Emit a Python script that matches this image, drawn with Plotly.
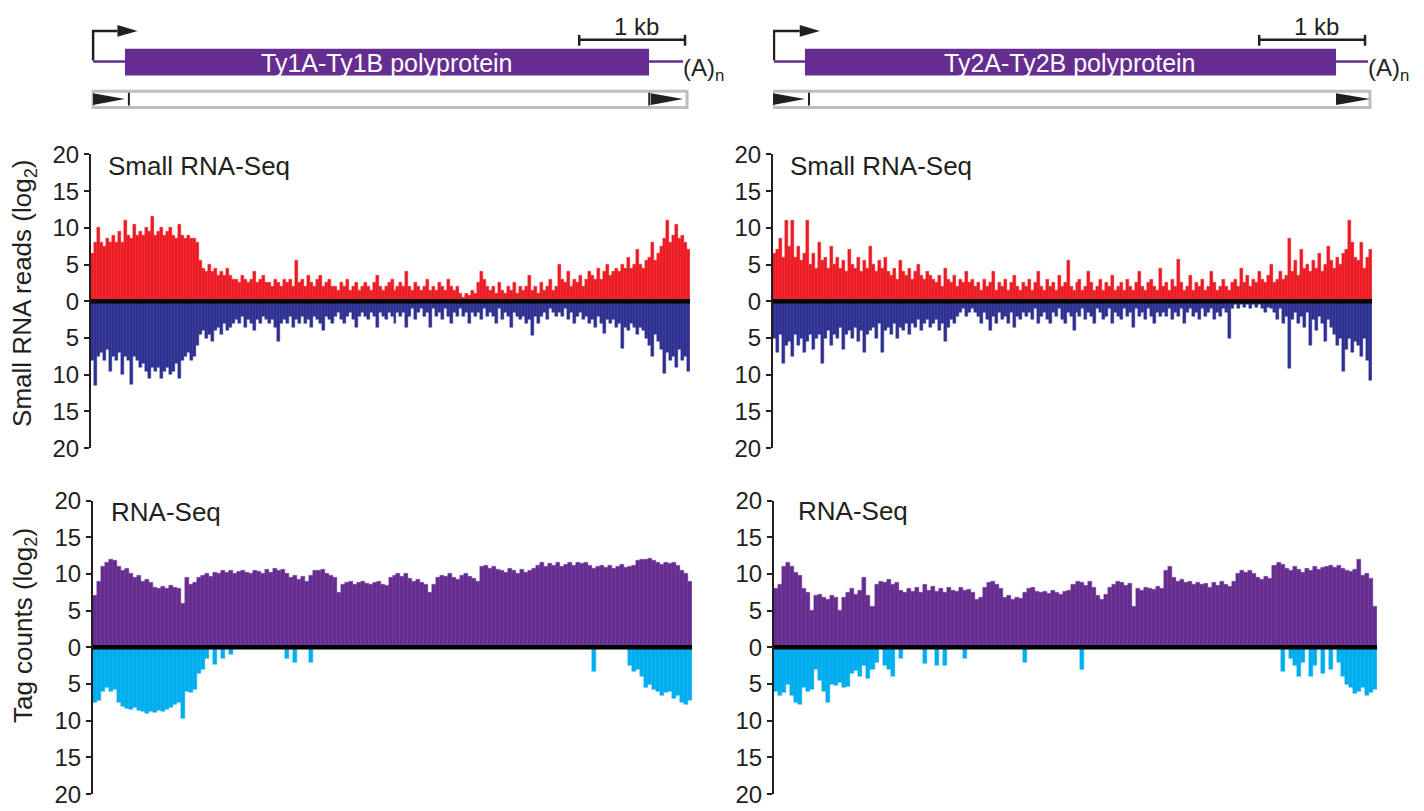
import numpy as np
import plotly.graph_objects as go

# ---------------- data (log2 read counts per bin) ----------------
ELEMENT_LEN_BP = 5660  # length drawn in each panel (1 kb scale bar = 106 px of 600 px)

TY1_SRNA_SENSE = [
    6.5, 8, 10, 8, 7.5, 8.5, 8, 9, 8, 9.5,
    8, 11, 9, 8.5, 10.5, 9, 9.5, 9, 10, 9.5,
    11.5, 9, 9.5, 10, 9, 9.5, 10, 9, 8.5, 10.5,
    9, 8.5, 9, 8.5, 8.5, 8, 5.5, 4.5, 4, 5,
    4, 4.5, 3.5, 4, 3.5, 4.5, 3.5, 3, 3, 2.5,
    3.5, 3, 2.5, 3, 4, 2.5, 3, 3.5, 2.5, 2.5,
    2, 3, 2.5, 2, 3, 2.5, 3, 2, 5.5, 2.5,
    3, 2, 3.5, 2.5, 2, 3, 3.5, 2, 2.5, 3,
    2, 2, 1.5, 2.5, 2, 3, 1.5, 2, 2.5, 1.5,
    2, 2.5, 2, 1.5, 2.5, 3.5, 2, 1.5, 2, 2.5,
    3, 1.5, 2, 2.5, 2, 4, 2, 1.5, 2.5, 2,
    1.5, 2, 3, 1.5, 2, 1.5, 2.5, 2, 1.5, 3,
    2, 1.5, 2, 1, 0.5, 1, 0.8, 1.5, 1, 2.5,
    4, 3, 2, 1.5, 2, 1, 2.5, 1.5, 1, 2,
    1.5, 2.5, 1, 2, 1.5, 2, 3.5, 1.5, 2, 1,
    2.5, 1.5, 2, 3, 1.5, 2, 5, 3, 2.5, 4,
    2, 3, 2.5, 3.5, 2, 3, 4, 3.5, 3, 4.5,
    3, 4, 5, 3.5, 4, 4.5, 4, 5, 4.5, 6,
    4.5, 5, 7, 5, 4.5, 5.5, 6, 8, 5.5, 6.5,
    7.5, 8.5, 11, 8, 9, 10.5, 8.5, 9, 8, 7,
]
TY1_SRNA_ANTISENSE = [
    8, 11.5, 7.5, 7, 8, 6.5, 9.5, 7.5, 8, 7,
    10, 7.5, 8, 11.3, 7.5, 8, 9, 8.5, 9.5, 10.5,
    9, 9.5, 9, 10.5, 9.5, 9, 10, 9.5, 8.5, 10.5,
    8, 7.5, 7, 8, 7.5, 6, 4.5, 4, 5, 4.5,
    5.5, 4, 3.5, 4.5, 3, 4, 3.5, 3, 2.5, 3,
    2, 3.5, 2.5, 3, 4, 2.5, 3, 2, 2.5, 3,
    2.5, 3.5, 5.5, 3, 2.5, 3, 2, 3.5, 2.5, 3,
    2, 3, 2.5, 3.5, 2, 2.5, 3, 4, 2, 2.5,
    3, 2, 1.5, 2.5, 3, 2, 1.5, 2.5, 3.5, 2,
    1.5, 2, 2.5, 1.5, 2, 3.5, 1.5, 2, 2.5, 1.5,
    2, 3, 1.5, 2, 1.5, 3.5, 2, 1, 2.5, 1.5,
    1, 2, 1.5, 3.5, 1, 2, 1.5, 2.5, 1, 2,
    3, 1.5, 2, 1, 2, 1.5, 3, 1.5, 2, 1.5,
    2.5, 1, 2, 1.5, 2, 3, 1, 2.5, 1.5, 2,
    3.5, 1.5, 2, 2.5, 2, 3, 2.5, 4.6, 2, 3,
    2, 1.5, 2.5, 1, 1.5, 2, 1.5, 2, 1, 2.5,
    1.5, 3, 2, 1.5, 2.5, 2, 3, 2.5, 3.5, 2,
    3, 4.4, 2.5, 3, 2.5, 3.5, 3, 6.4, 3.5, 4,
    3, 3.5, 4.5, 3.5, 4, 5, 6, 7.5, 4.5, 5.5,
    6.5, 9.9, 7, 8, 7.5, 9, 6.5, 8, 7.5, 9.5,
]
TY2_SRNA_SENSE = [
    6.5, 7, 8.5, 6, 11, 7.5, 11, 6, 7.5, 5.5,
    6.5, 11, 5, 6.5, 4.5, 8, 5.5, 6, 4.5, 7.5,
    5, 6, 4.5, 5.5, 4, 7, 5, 4.5, 6, 4,
    5.5, 4.5, 7.5, 5, 4, 5.5, 4.5, 6, 4, 3.5,
    4.5, 3, 5.5, 4, 3.5, 4.5, 3, 4, 5, 3.5,
    3, 4, 3.5, 3, 2.5, 3.5, 2, 4.5, 3, 2.5,
    3.5, 2, 3, 2.5, 4, 2.5, 3, 2, 2.5, 1.5,
    3, 2, 2.5, 4, 1.5, 2.5, 2, 3, 1.5, 2.5,
    3.5, 2, 1.5, 2.5, 2, 3, 1.5, 2.5, 4, 2,
    1.5, 3, 2, 2.5, 1.5, 3.5, 2, 2.5, 5.5, 2,
    1.5, 2.5, 3, 1.5, 2, 4, 2.5, 1.5, 2, 3,
    1.5, 2.5, 2, 3.5, 1.5, 2, 2.5, 1.5, 3, 2,
    1.5, 2.5, 4, 2, 1.5, 2.5, 3, 2, 1.5, 4.5,
    2, 2.5, 1.5, 3, 2, 5.7, 2.5, 1.5, 2, 3.5,
    1.5, 2.5, 2, 3, 1.5, 2, 4, 2.5, 1.5, 2,
    3, 2, 1.5, 2.5, 3, 2, 4.5, 2.5, 3.5, 2,
    3, 2.5, 4, 3, 2.5, 3.5, 5, 2.5, 3, 4,
    3, 3.5, 8.5, 4, 5.5, 3.5, 7, 4.5, 5, 4,
    5.5, 4.5, 6.5, 4, 5, 7.5, 5.5, 4.5, 6, 5,
    6.5, 7, 11, 8, 6, 5.5, 8, 4.5, 6, 7,
]
TY2_SRNA_ANTISENSE = [
    5, 7, 4.5, 8.5, 6, 5.5, 7.5, 4.5, 6, 5,
    7, 5.5, 4.5, 6.5, 5, 4.5, 8.5, 5, 4, 6,
    4.5, 5, 3.5, 6.5, 4.5, 4, 5, 3.5, 5.5, 4,
    7, 4.5, 4, 3.5, 5, 3, 7, 4, 3.5, 4.5,
    3, 5, 3.5, 4, 3, 4.5, 3, 3.5, 2.5, 4,
    3, 2.5, 3.5, 3, 2.5, 4, 3, 5.5, 3.5, 2.5,
    3, 2, 1.5, 1, 2, 1.5, 1, 1.5, 2, 3,
    1.5, 2.5, 4, 2, 3, 1.5, 2.5, 2, 3, 1.5,
    3.5, 2, 2.5, 1.5, 2, 1.5, 2.5, 1, 3, 2,
    1.5, 2.5, 3, 1.5, 2, 1, 2.5, 3, 1.5, 2,
    4, 1.5, 2, 1, 2.5, 1.5, 2, 3, 1, 1.5,
    2.5, 2, 1, 3, 1.5, 2, 2.5, 1, 2, 1.5,
    3.5, 1, 2, 1.5, 2.5, 1, 2, 3, 1.5, 2,
    1.5, 2, 1, 2.5, 1.5, 2, 1, 3, 1.5, 1,
    2, 1.5, 2.5, 1, 2, 1.5, 1, 2.5, 1.5, 2,
    1, 1.5, 5, 1, 0.5, 1, 0.5, 0.8, 0.5, 1,
    0.5, 0.8, 0.5, 1, 1.5, 0.8, 1, 1.5, 2.5, 1,
    3, 2, 9.2, 2.5, 1.5, 3, 2, 3.5, 1.5, 6,
    2.5, 4, 2, 3, 5.5, 2.5, 3.5, 4.5, 6, 5,
    9.5, 6.5, 5, 7, 5.5, 6, 7.5, 5, 8, 10.8,
]
TY1_RNASEQ_SENSE = [
    7, 9, 11, 11.5, 12, 11.8, 11, 10.5, 10.8, 10,
    9.5, 9.8, 9, 9.2, 8.8, 8.2, 8, 8.3, 8, 8.4,
    8.2, 8, 6, 9.5, 8.5, 8.8, 9.5, 9.8, 10, 9.6,
    10.2, 10, 10.4, 10.2, 10.5, 10, 10.3, 10.4, 10.2, 10,
    10.5, 10.3, 10, 10.6, 10.2, 10.8, 10.4, 10.6, 10, 9.5,
    9.8, 9.2, 9.6, 9, 9.8, 10.5, 10.4, 10.6, 10, 9.8,
    9.5, 7.5, 8.5, 8.8, 9, 8.6, 8.8, 9, 8.7, 8.5,
    8.8, 9, 8.6, 8.4, 9.5, 9.8, 10, 9.6, 10, 9.4,
    9, 9.2, 8.8, 8.5, 7.5, 8.6, 9.5, 9.8, 9.6, 10,
    9.5, 9.2, 9.8, 10, 9.6, 9.4, 9, 11, 11.2, 10.8,
    11, 10.6, 10.4, 10.2, 10.8, 10.5, 10, 10.6, 10.2, 10.4,
    10.8, 11.2, 11.5, 11, 11.4, 11.2, 11.5, 11, 11.3, 11.5,
    11.2, 11.6, 11.4, 11.5, 11.2, 10.8, 11, 11.2, 10.9, 11.1,
    10.8, 11, 11.3, 10.9, 11, 11.2, 11.8, 12, 11.9, 12.1,
    11.8, 11.5, 11.3, 11.6, 11.4, 11.5, 11.2, 10.5, 10, 9,
]
TY1_RNASEQ_ANTISENSE = [
    7.5, 7.3, 6, 5.5, 6, 5.8, 7.5, 8, 8.3, 8.5,
    8.2, 8.6, 8.8, 9, 8.7, 8.9, 8.6, 8.8, 8.5, 8.2,
    7.8, 7.5, 9.7, 6, 6.2, 5.8, 3.5, 3, 1.5, 0,
    2.3, 0, 1.5, 0, 1, 0, 0, 0, 0, 0,
    0, 0, 0, 0, 0, 0, 0, 0, 1.5, 0,
    2, 0, 0, 0, 2, 0, 0, 0, 0, 0,
    0, 0, 0, 0, 0, 0, 0, 0, 0, 0,
    0, 0, 0, 0, 0, 0, 0, 0, 0, 0,
    0, 0, 0, 0, 0, 0, 0, 0, 0, 0,
    0, 0, 0, 0, 0, 0, 0, 0, 0, 0,
    0, 0, 0, 0, 0, 0, 0, 0, 0, 0,
    0, 0, 0, 0, 0, 0, 0, 0, 0, 0,
    0, 0, 0, 0, 0, 3.3, 0, 0, 0, 0,
    0, 0, 0, 0, 2.5, 3.3, 3, 4, 5.5, 5,
    5.8, 6, 6.5, 6.2, 6, 7, 6.5, 7.5, 7.8, 7.2,
]
TY2_RNASEQ_SENSE = [
    8, 8.5, 11, 11.5, 11, 10.2, 9.8, 8, 7.5, 5,
    7, 7.2, 6.8, 6.5, 7, 6.8, 5, 6.8, 7.5, 8,
    7.2, 7.8, 9.5, 7, 5.5, 8.5, 9, 8.8, 9.2, 8.6,
    8.8, 7.8, 7.5, 8, 7.6, 8.2, 7.5, 8.5, 7.8, 8.3,
    7.6, 8, 7.5, 8.2, 7.8, 7.6, 8.1, 7.7, 7.9, 7.5,
    6.5, 6.8, 8.2, 8.8, 9, 8.5, 8, 6.8, 7, 6.5,
    6.8, 6.6, 7.5, 8, 8.2, 7.6, 7.4, 7.6, 7.3, 7.8,
    7.5, 7.2, 7.6, 7.8, 8.5, 9, 8.8, 8.4, 8.9, 8.2,
    7, 6.5, 7.2, 8.2, 8.6, 9, 8.8, 8.4, 8.7, 5.5,
    8, 7.8, 8.2, 8, 7.9, 8.3, 8, 10.5, 11, 9.5,
    9, 9.2, 8.8, 9, 8.6, 8.8, 8.5, 8.7, 8.2, 8.8,
    8.4, 9, 8.6, 8.3, 8.9, 10, 10.5, 10.2, 10.4, 10,
    9.5, 9.2, 9.6, 9.4, 11.2, 11.5, 11.3, 10.8, 10.5, 11,
    10.6, 10.2, 10.8, 10.4, 11, 10.6, 10.9, 11, 11.2, 10.9,
    11.1, 10.8, 10.5, 10.3, 10.6, 12, 9.8, 10, 9.4, 5.5,
]
TY2_RNASEQ_ANTISENSE = [
    6, 6.5, 6.2, 5, 6.5, 7.5, 7.8, 5.5, 6, 5.8,
    3, 4.5, 6, 7.5, 5, 5.2, 4.8, 5.5, 5.3, 3.5,
    3.2, 4, 2.5, 4.2, 3, 2, 0, 2.5, 3, 4,
    0, 1.5, 0, 0, 0, 0, 0, 2.2, 0, 0,
    2.5, 0, 2.5, 0, 0, 0, 0, 1.5, 0, 0,
    0, 0, 0, 0, 0, 0, 0, 0, 0, 0,
    0, 0, 2, 0, 0, 0, 0, 0, 0, 0,
    0, 0, 0, 0, 0, 0, 3, 0, 0, 0,
    0, 0, 0, 0, 0, 0, 0, 0, 0, 0,
    0, 0, 0, 0, 0, 0, 0, 0, 0, 0,
    0, 0, 0, 0, 0, 0, 0, 0, 0, 0,
    0, 0, 0, 0, 0, 0, 0, 0, 0, 0,
    0, 0, 0, 0, 0, 0, 3.3, 0, 1.5, 2.5,
    4, 2, 0, 4, 2.5, 0, 3.5, 0, 3, 0,
    2, 4, 5, 5.5, 6.3, 6, 5.5, 6.5, 6.2, 5.8,
]

Y_TICK_VALUES = [-20, -15, -10, -5, 0, 5, 10, 15, 20]
Y_TICK_TEXT = ["20", "15", "10", "5", "0", "5", "10", "15", "20"]

# gene annotations (bp along the element)
TY1_GENE = dict(label="Ty1A-Ty1B polyprotein", tss=20, arrow_tip=440, orf=(321, 5273),
                tail_end=5594, ltr5=(19, 321), ltr3=(5290, 5594), box=(19, 5632),
                ltr_marks=(358, 5275), scalebar=(4613, 5613))
TY2_GENE = dict(label="Ty2A-Ty2B polyprotein", tss=9, arrow_tip=443, orf=(302, 5320),
                tail_end=5622, ltr5=(0, 302), ltr3=(5320, 5641), box=(0, 5641),
                ltr_marks=(340,), scalebar=(4594, 5594))

# ---------------- styling ----------------
W, H = 1424, 811
# the page shows the figure's paper at x 8..1432 and y 17..810 of the screenshot
PAPER_X0, PAPER_W = 8, 1424
PAPER_Y0, PAPER_H = 17, 793
FONT = "Liberation Sans, Arial, Helvetica, sans-serif"
TXT = "#231F20"
RED, NAVY, PURPLE, CYAN = "#ED1C24", "#2E3192", "#662D91", "#00AEEF"
GRAY = "#BCBEC0"


def fx(p):
    return (p - PAPER_X0) / PAPER_W


def fy(p):
    return 1 - (p - PAPER_Y0) / PAPER_H


fig = go.Figure()


def add_track(vals, sign, color, xa, ya):
    n = len(vals)
    w = ELEMENT_LEN_BP / n
    x = (np.arange(n) + 0.5) * w
    y = sign * np.asarray(vals, dtype=float)
    fig.add_trace(go.Bar(
        x=x, y=y, width=w, xaxis=xa, yaxis=ya,
        marker=dict(color=color, line=dict(width=0.4, color=color)),
        showlegend=False, hoverinfo="skip"))


add_track(TY1_SRNA_SENSE, 1, RED, "x", "y")
add_track(TY1_SRNA_ANTISENSE, -1, NAVY, "x", "y")
add_track(TY2_SRNA_SENSE, 1, RED, "x2", "y2")
add_track(TY2_SRNA_ANTISENSE, -1, NAVY, "x2", "y2")
add_track(TY1_RNASEQ_SENSE, 1, PURPLE, "x3", "y3")
add_track(TY1_RNASEQ_ANTISENSE, -1, CYAN, "x3", "y3")
add_track(TY2_RNASEQ_SENSE, 1, PURPLE, "x4", "y4")
add_track(TY2_RNASEQ_ANTISENSE, -1, CYAN, "x4", "y4")

# panel geometry in screenshot pixels: x-left, x-right, y-top, y-bottom
PANELS = {
    "": (91, 690, 151, 448),
    "2": (773, 1372, 151, 448),
    "3": (93, 692, 501, 798),
    "4": (774, 1377, 501, 798),
}

layout = dict(
    width=W, height=H, margin=dict(l=0, r=0, t=0, b=0),
    paper_bgcolor="white", plot_bgcolor="white",
    barmode="overlay", bargap=0,
    font=dict(family=FONT, color=TXT),
)
for k, (x0, x1, y0, y1) in PANELS.items():
    layout["xaxis" + k] = dict(domain=[fx(x0), fx(x1)], range=[0, ELEMENT_LEN_BP],
                               visible=False, anchor="y" + k, fixedrange=True)
    layout["yaxis" + k] = dict(domain=[fy(y1), fy(y0)], range=[-20, 20], anchor="x" + k,
                               tickvals=Y_TICK_VALUES, ticktext=Y_TICK_TEXT,
                               ticks="outside", ticklen=5, tickwidth=2, tickcolor=TXT,
                               showline=True, linewidth=2, linecolor=TXT,
                               showgrid=False, zeroline=False,
                               tickfont=dict(size=24, family=FONT, color=TXT))
fig.update_layout(**layout)

# thick zero lines
for k in PANELS:
    fig.add_shape(type="line", xref=("x" + k + " domain"), yref="y" + k,
                  x0=0, x1=1, y0=0, y1=0, line=dict(color="black", width=4.5), layer="above")

# panel labels
for x, y, t in [(106, 163, "Small RNA-Seq"), (788, 163, "Small RNA-Seq"),
                (109, 513, "RNA-Seq"), (796, 512, "RNA-Seq")]:
    fig.add_annotation(x=fx(x), y=fy(y), xref="paper", yref="paper", text=t, showarrow=False,
                       xanchor="left", yanchor="middle", font=dict(size=26, color=TXT, family=FONT))

# y-axis titles
for y, t in [(292, "Small RNA reads (log<sub>2</sub>)"), (628, "Tag counts (log<sub>2</sub>)")]:
    fig.add_annotation(x=fx(24), y=fy(y), xref="paper", yref="paper", text=t, showarrow=False,
                       textangle=-90, xanchor="center", yanchor="middle",
                       font=dict(size=26, color=TXT, family=FONT))


def draw_gene(g, xref):
    lw = 2.5
    head = 190
    # promoter arrow
    fig.add_shape(type="path", xref=xref, yref="paper",
                  path=f"M {g['tss']},{fy(56)} L {g['tss']},{fy(26)} L {g['arrow_tip'] - head},{fy(26)}",
                  line=dict(color=TXT, width=lw))
    fig.add_shape(type="path", xref=xref, yref="paper",
                  path=(f"M {g['arrow_tip'] - head},{fy(20)} L {g['arrow_tip']},{fy(26)} "
                        f"L {g['arrow_tip'] - head},{fy(32)} Z"),
                  fillcolor=TXT, line=dict(width=0))
    # transcript lines
    fig.add_shape(type="line", xref=xref, yref="paper", x0=g["tss"], x1=g["orf"][0],
                  y0=fy(57), y1=fy(57), line=dict(color=PURPLE, width=lw))
    fig.add_shape(type="line", xref=xref, yref="paper", x0=g["orf"][1], x1=g["tail_end"],
                  y0=fy(57), y1=fy(57), line=dict(color=PURPLE, width=lw))
    # ORF box
    fig.add_shape(type="rect", xref=xref, yref="paper", x0=g["orf"][0], x1=g["orf"][1],
                  y0=fy(71), y1=fy(44), fillcolor=PURPLE, line=dict(width=0))
    fig.add_annotation(x=(g["orf"][0] + g["orf"][1]) / 2, y=fy(58), xref=xref, yref="paper",
                       text=g["label"], showarrow=False, xanchor="center", yanchor="middle",
                       font=dict(size=25, color="white", family=FONT))
    fig.add_annotation(x=g["tail_end"], y=fy(65), xref=xref, yref="paper",
                       text="(A)<sub>n</sub>", showarrow=False, xanchor="left", yanchor="middle",
                       xshift=-2, font=dict(size=24, color=TXT, family=FONT))
    # scale bar
    s0, s1 = g["scalebar"]
    fig.add_shape(type="line", xref=xref, yref="paper", x0=s0, x1=s1, y0=fy(35), y1=fy(35),
                  line=dict(color=TXT, width=lw))
    for s in (s0, s1):
        fig.add_shape(type="line", xref=xref, yref="paper", x0=s, x1=s, y0=fy(30), y1=fy(41),
                      line=dict(color=TXT, width=lw))
    fig.add_annotation(x=(s0 + s1) / 2 + 45, y=fy(22), xref=xref, yref="paper", text="1 kb",
                       showarrow=False, xanchor="center", yanchor="middle",
                       font=dict(size=24, color=TXT, family=FONT))
    # element box with LTRs
    b0, b1 = g["box"]
    fig.add_shape(type="rect", xref=xref, yref="paper", x0=b0, x1=b1, y0=fy(103.5), y1=fy(87),
                  fillcolor="white", line=dict(color=GRAY, width=3))
    for a, b in (g["ltr5"], g["ltr3"]):
        fig.add_shape(type="path", xref=xref, yref="paper",
                      path=f"M {a},{fy(89)} L {b},{fy(95)} L {a},{fy(101)} Z",
                      fillcolor=TXT, line=dict(width=0))
    for m in g["ltr_marks"]:
        fig.add_shape(type="line", xref=xref, yref="paper", x0=m, x1=m,
                      y0=fy(88.5), y1=fy(101.5), line=dict(color=TXT, width=2))


draw_gene(TY1_GENE, "x")
draw_gene(TY2_GENE, "x2")

fig.write_html("out.html")
